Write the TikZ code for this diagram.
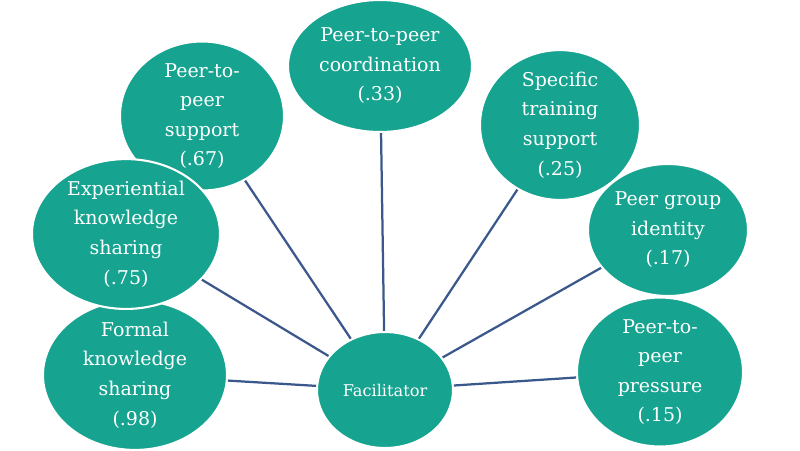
\documentclass[tikz,border=0pt]{standalone}
\usepackage{fontspec}
\setmainfont{DejaVu Serif}
\usetikzlibrary{shapes.geometric}
\definecolor{teal1}{RGB}{22,163,143}
\definecolor{link}{RGB}{58,88,140}
\begin{document}
\begin{tikzpicture}[x=0.025cm,y=-0.025cm,
 bub/.style={ellipse,fill=teal1,draw=white,line width=1.5pt,inner sep=0pt,text=white,align=center,font=\fontsize{13.5}{21}\selectfont},
 con/.style={draw=link,line width=1.6pt}]
\useasboundingbox (0,0) rectangle (800,450);
\node[bub,minimum width=4.6cm,minimum height=3.4cm] (f) at (135,375) {Formal\\knowledge\\sharing\\(.98)};
\node[bub,minimum width=4.1cm,minimum height=3.1cm] (s) at (202,116) {Peer-to-\\peer\\support\\(.67)};
\node[bub,minimum width=4.7cm,minimum height=3.1cm] (e) at (126,234) {Experiential\\knowledge\\sharing\\(.75)};
\node[bub,minimum width=4.6cm,minimum height=3.3cm] (c) at (380,66) {Peer-to-peer\\coordination\\(.33)};
\node[bub,minimum width=4.0cm,minimum height=3.4cm] (t) at (560,125) {Specific\\training\\support\\(.25)};
\node[bub,minimum width=4.0cm,minimum height=3.3cm] (g) at (668,230) {Peer group\\identity\\(.17)};
\node[bub,minimum width=4.15cm,minimum height=3.3cm] (p) at (660,372) {Peer-to-\\peer\\pressure\\(.15)};
\node[bub,minimum width=3.4cm,minimum height=2.9cm,font=\fontsize{11.5}{15}\selectfont] (fa) at (385,390) {Facilitator};
\foreach \n in {f,e,s,c,t,g,p} \draw[con] (fa) -- (\n);
\end{tikzpicture}
\end{document}
